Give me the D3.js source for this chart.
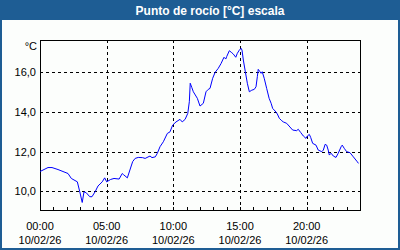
<!DOCTYPE html>
<html>
<head>
<meta charset="utf-8">
<script src="https://cdn.jsdelivr.net/npm/d3@7/dist/d3.min.js"></script>
<style>
  html, body { margin: 0; padding: 0; background: #fff; }
  svg { display: block; }
  text { font-family: "Liberation Sans", Arial, sans-serif; }
</style>
</head>
<body>
<svg id="chart" width="400" height="250"></svg>
<script>
// minutes since 00:00 and dew point readings (°C)
var minutes = [0, 36, 54, 81, 126, 141, 168, 179, 190, 198, 208, 224, 234, 249, 261, 280, 291, 300,
  318, 333, 356, 370, 375, 393, 417, 428, 442, 462, 473, 495, 504, 519, 528, 540, 555, 573, 585,
  597, 612, 630, 640, 653, 665, 672, 676, 683, 690, 708, 720, 735, 747, 757, 765, 777, 788, 802,
  815, 822, 828, 836, 840, 852, 863, 870, 881, 888, 897, 905, 909, 915, 924, 933, 942, 953, 964,
  972, 978, 982, 990, 995, 1000, 1009, 1020, 1031, 1040, 1047, 1058, 1068, 1077, 1088, 1095, 1110,
  1137, 1155, 1162, 1173, 1185, 1197, 1203, 1212, 1218, 1227, 1242, 1252, 1268, 1275, 1283, 1290,
  1297, 1302, 1310, 1320, 1332, 1342, 1355, 1360, 1369, 1380, 1395, 1410, 1428, 1433];
var dewPoint = [11.0, 11.2, 11.2, 11.1, 10.9, 10.65, 10.48, 9.98, 9.44, 9.98, 9.93, 9.73, 9.73, 10.0,
  10.27, 10.48, 10.68, 10.48, 10.6, 10.65, 10.62, 10.9, 10.85, 10.68, 11.5, 11.66, 11.71, 11.7, 11.66,
  11.78, 11.7, 11.74, 11.92, 12.25, 12.5, 12.92, 13.0, 13.34, 13.5, 13.63, 13.5, 13.63, 13.93, 14.52,
  15.45, 15.24, 15.02, 14.69, 14.3, 14.44, 15.02, 15.14, 15.19, 15.7, 16.0, 16.2, 16.45, 16.62, 16.76,
  16.67, 16.79, 17.09, 16.99, 16.92, 16.76, 16.96, 17.12, 17.21, 17.12, 16.62, 16.03, 15.45, 15.02,
  15.1, 15.14, 15.27, 15.78, 16.15, 16.03, 15.95, 16.03, 15.7, 15.19, 14.69, 14.44, 14.18, 14.05, 13.9,
  13.68, 13.56, 13.5, 13.43, 13.09, 13.06, 13.13, 12.97, 12.79, 12.67, 12.79, 12.87, 12.72, 12.42,
  12.33, 12.08, 12.0, 12.08, 12.37, 12.33, 12.08, 11.83, 11.92, 11.78, 11.71, 11.92, 12.25, 12.33,
  12.17, 12.0, 11.95, 11.74, 11.49, 11.41];
var yTicks = [10, 12, 14, 16];
var xLabelTicks = [0, 300, 600, 900, 1200];
var xLabels = ["00:00", "05:00", "10:00", "15:00", "20:00"];
var dateLabel = "10/02/26";
var title = "Punto de rocío [°C] escala";
var unit = "°C";

var svg = d3.select("#chart");
var W = 400, H = 250;
var plot = { left: 40, top: 40, right: 360, bottom: 210 };

var x = d3.scaleLinear().domain([0, 1440]).range([plot.left, plot.right]);
var y = d3.scaleLinear().domain([9.06, 17.63]).range([plot.bottom, plot.top]);

// frame
svg.append("rect").attr("width", W).attr("height", H).attr("fill", "#1e5d94");
svg.append("rect").attr("x", 2).attr("y", 20).attr("width", W - 4).attr("height", H - 22)
  .attr("fill", "#fcfefc");

svg.append("text")
  .attr("x", 210).attr("y", 14.5)
  .attr("text-anchor", "middle")
  .attr("fill", "#fff")
  .attr("font-size", "12px")
  .attr("font-weight", "bold")
  .text(title);

// grid
var grid = svg.append("g").attr("stroke", "#000").attr("stroke-dasharray", "3,3")
  .attr("shape-rendering", "crispEdges");
grid.selectAll("line.h").data(yTicks).join("line").attr("class", "h")
  .attr("x1", plot.left).attr("x2", plot.right)
  .attr("y1", function (d) { return Math.round(y(d)) + 0.5; })
  .attr("y2", function (d) { return Math.round(y(d)) + 0.5; });
grid.selectAll("line.v").data(xLabelTicks.slice(1)).join("line").attr("class", "v")
  .attr("y1", plot.top).attr("y2", plot.bottom)
  .attr("x1", function (d) { return Math.round(x(d)) + 0.5; })
  .attr("x2", function (d) { return Math.round(x(d)) + 0.5; });

// hourly ticks on bottom axis, pointing up
var xAxis = d3.axisTop(x).tickValues(d3.range(0, 1441, 60)).tickSize(4).tickFormat("");
svg.append("g").attr("transform", "translate(0," + (plot.bottom + 0.5) + ")")
  .attr("shape-rendering", "crispEdges")
  .call(xAxis)
  .call(function (g) { g.select(".domain").remove(); });

// y labels
var yAxis = d3.axisLeft(y).tickValues(yTicks).tickSize(0).tickPadding(4)
  .tickFormat(function (d) { return d3.format(".1f")(d).replace(".", ","); });
svg.append("g").attr("transform", "translate(" + plot.left + ",0)")
  .call(yAxis)
  .call(function (g) {
    g.select(".domain").remove();
    g.selectAll("text").attr("font-size", "11px").attr("fill", "#000")
      .attr("font-family", "Liberation Sans, Arial, sans-serif");
  });

svg.append("text").attr("x", 37).attr("y", 50).attr("text-anchor", "end")
  .attr("font-size", "11px").text(unit);

// x labels
var xl = svg.append("g").selectAll("text").data(xLabelTicks).join("text")
  .attr("text-anchor", "middle").attr("font-size", "11px").attr("fill", "#000");
xl.append("tspan").attr("x", function (d) { return x(d); }).attr("y", 230)
  .text(function (d, i) { return xLabels[i]; });
xl.append("tspan").attr("x", function (d) { return x(d); }).attr("y", 244)
  .text(dateLabel);

// plot border
svg.append("rect").attr("x", plot.left + 0.5).attr("y", plot.top + 0.5)
  .attr("width", plot.right - plot.left).attr("height", plot.bottom - plot.top)
  .attr("fill", "none").attr("stroke", "#000").attr("shape-rendering", "crispEdges");

// line
var line = d3.line()
  .x(function (d, i) { return x(minutes[i]); })
  .y(function (d) { return y(d); });
svg.append("path").datum(dewPoint)
  .attr("d", line)
  .attr("fill", "none")
  .attr("stroke", "#0000ff")
  .attr("stroke-width", 1);
</script>
</body>
</html>
